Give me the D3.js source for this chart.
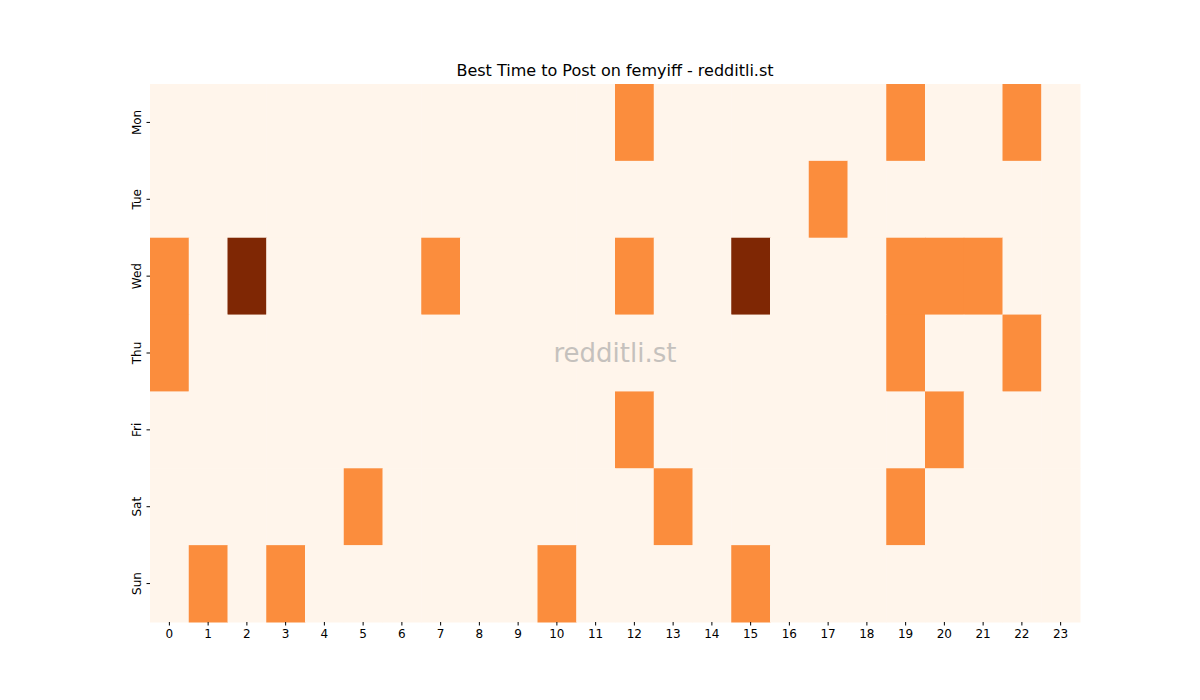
<!DOCTYPE html>
<html><head><meta charset="utf-8">
<script src="https://cdn.jsdelivr.net/npm/d3@7"></script>
<style>body{margin:0;background:#fff}text{font-family:"DejaVu Sans",sans-serif}</style>
</head><body><svg id="c" width="1200" height="700"></svg>
<script>
const days = ["Mon","Tue","Wed","Thu","Fri","Sat","Sun"];
const hours = d3.range(24).map(String);
const mon = [0,0,0,0,0,0,0,0,0,0,0,0,1,0,0,0,0,0,0,1,0,0,1,0];
const tue = [0,0,0,0,0,0,0,0,0,0,0,0,0,0,0,0,0,1,0,0,0,0,0,0];
const wed = [1,0,2,0,0,0,0,1,0,0,0,0,1,0,0,2,0,0,0,1,1,1,0,0];
const thu = [1,0,0,0,0,0,0,0,0,0,0,0,0,0,0,0,0,0,0,1,0,0,1,0];
const fri = [0,0,0,0,0,0,0,0,0,0,0,0,1,0,0,0,0,0,0,0,1,0,0,0];
const sat = [0,0,0,0,0,1,0,0,0,0,0,0,0,1,0,0,0,0,0,1,0,0,0,0];
const sun = [0,1,0,1,0,0,0,0,0,0,1,0,0,0,0,1,0,0,0,0,0,0,0,0];
const rows = [mon,tue,wed,thu,fri,sat,sun];

const svg = d3.select("#c");
const L=150,R=1080,T=84,B=622;
const x = d3.scaleBand().domain(hours).range([L,R]);
const y = d3.scaleBand().domain(days).range([T,B]);
const color = v => d3.interpolateOranges(v/2);
const cells = [];
rows.forEach((r,i)=>r.forEach((v,j)=>cells.push({d:days[i],h:hours[j],v})));
svg.selectAll("rect.cell").data(cells).enter().append("rect")
  .attr("x",d=>x(d.h)).attr("y",d=>y(d.d))
  .attr("width",x.bandwidth()+0.5).attr("height",y.bandwidth()+0.5)
  .attr("fill",d=>color(d.v));

const xa = svg.append("g").attr("transform",`translate(0,${B})`).call(d3.axisBottom(x).tickSize(3.5).tickPadding(3.5));
const ya = svg.append("g").attr("transform",`translate(${L},0)`).call(d3.axisLeft(y).tickSize(3.5).tickPadding(3.5));
[xa,ya].forEach(a=>{a.select(".domain").remove();a.selectAll("text").attr("font-size",12).attr("fill","#000").attr("font-family","DejaVu Sans");a.selectAll("line").attr("stroke","#000");});
ya.selectAll("text").attr("transform","rotate(-90)").attr("text-anchor","middle").attr("x",0).attr("dy",0).attr("y",-9);

svg.append("text").attr("x",(L+R)/2).attr("y",76).attr("text-anchor","middle").attr("font-size",16).text("Best Time to Post on femyiff - redditli.st");
svg.append("text").attr("x",(L+R)/2).attr("y",362).attr("text-anchor","middle").attr("font-size",26).attr("fill","#a0a0a0").attr("opacity",0.6).text("redditli.st");
</script></body></html>
